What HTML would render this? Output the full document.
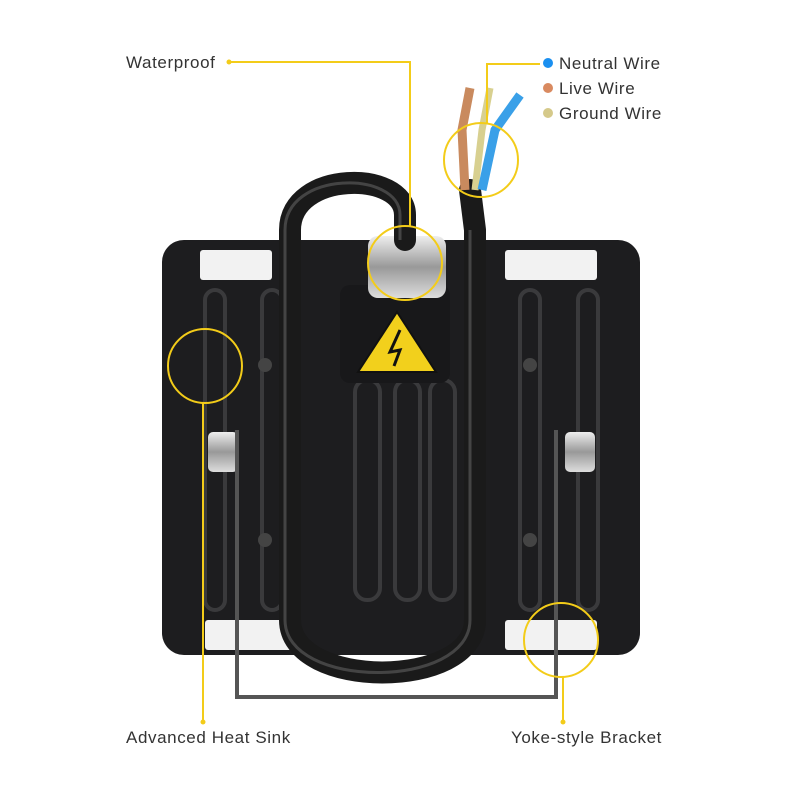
<!DOCTYPE html>
<html><head><meta charset="utf-8"><style>
html,body{margin:0;padding:0;background:#fff;}
svg{display:block;}
text{font-family:"Liberation Sans",sans-serif;font-size:17px;letter-spacing:0.6px;fill:#333;}
</style></head><body>
<svg width="800" height="800" viewBox="0 0 800 800">
<defs>
<linearGradient id="met" x1="0" y1="0" x2="0" y2="1"><stop offset="0" stop-color="#eee"/><stop offset="0.5" stop-color="#999"/><stop offset="1" stop-color="#ddd"/></linearGradient>
</defs>
<rect x="162" y="240" width="478" height="415" rx="22" fill="#1d1d1f"/>
<g fill="none" stroke="#3a3a3c" stroke-width="4">
<rect x="205" y="290" width="20" height="320" rx="10"/>
<rect x="262" y="290" width="20" height="320" rx="10"/>
<rect x="520" y="290" width="20" height="320" rx="10"/>
<rect x="578" y="290" width="20" height="320" rx="10"/>
<rect x="355" y="380" width="25" height="220" rx="12"/>
<rect x="395" y="380" width="25" height="220" rx="12"/>
<rect x="430" y="380" width="25" height="220" rx="12"/>
</g>
<rect x="200" y="250" width="72" height="30" rx="3" fill="#f2f2f2"/>
<rect x="505" y="250" width="92" height="30" rx="3" fill="#f2f2f2"/>
<rect x="205" y="620" width="88" height="30" rx="3" fill="#f2f2f2"/>
<rect x="505" y="620" width="92" height="30" rx="3" fill="#f2f2f2"/>
<rect x="208" y="432" width="30" height="40" rx="5" fill="url(#met)"/>
<rect x="565" y="432" width="30" height="40" rx="5" fill="url(#met)"/>
<g fill="#444"><circle cx="265" cy="365" r="7"/><circle cx="265" cy="540" r="7"/><circle cx="530" cy="365" r="7"/><circle cx="530" cy="540" r="7"/></g>
<path d="M237 430 V697 H556 V430" fill="none" stroke="#555" stroke-width="4"/>
<rect x="340" y="285" width="110" height="98" rx="10" fill="#18181a"/>
<polygon points="397,312 436,372 358,372" fill="#f2d01c" stroke="#111" stroke-width="2"/>
<path d="M400 330 L390 352 L400 350 L394 366" fill="none" stroke="#111" stroke-width="3"/>
<rect x="368" y="236" width="78" height="62" rx="10" fill="url(#met)"/>
<path d="M405 240 V215 C405 170 290 170 290 230 V620 C290 690 475 690 475 620 V230 L470 190" fill="none" stroke="#1a1a1a" stroke-width="22" stroke-linejoin="round" stroke-linecap="round"/>
<path d="M405 240 V215 C405 170 290 170 290 230 V620 C290 690 475 690 475 620 V230" fill="none" stroke="#444" stroke-width="3" transform="translate(-5,0)"/>
<path d="M465 190 L462 130 L470 88" stroke="#c98a5e" stroke-width="9" fill="none"/>
<path d="M475 190 L482 130 L490 88" stroke="#d8d090" stroke-width="7" fill="none"/>
<path d="M482 190 L495 130 L520 95" stroke="#3aa0e8" stroke-width="9" fill="none"/>
<g fill="none" stroke="#f3cc19" stroke-width="2">
<circle cx="481" cy="160" r="37"/>
<circle cx="405" cy="263" r="37"/>
<circle cx="205" cy="366" r="37"/>
<circle cx="561" cy="640" r="37"/>
<path d="M229 62 H410 V226"/>
<path d="M487 124 V64 H540"/>
<path d="M203 403 V722"/>
<path d="M563 677 V722"/>
</g>
<g fill="#f3cc19"><circle cx="229" cy="62" r="2.5"/><circle cx="203" cy="722" r="2.5"/><circle cx="563" cy="722" r="2.5"/></g>
<circle cx="548" cy="63" r="5" fill="#1a8ff0"/>
<circle cx="548" cy="88" r="5" fill="#d98a60"/>
<circle cx="548" cy="113" r="5" fill="#d5c98a"/>
<text x="126" y="68">Waterproof</text>
<text x="559" y="69">Neutral Wire</text>
<text x="559" y="94">Live Wire</text>
<text x="559" y="119">Ground Wire</text>
<text x="126" y="743">Advanced Heat Sink</text>
<text x="511" y="743">Yoke-style Bracket</text>
</svg>
</body></html>
